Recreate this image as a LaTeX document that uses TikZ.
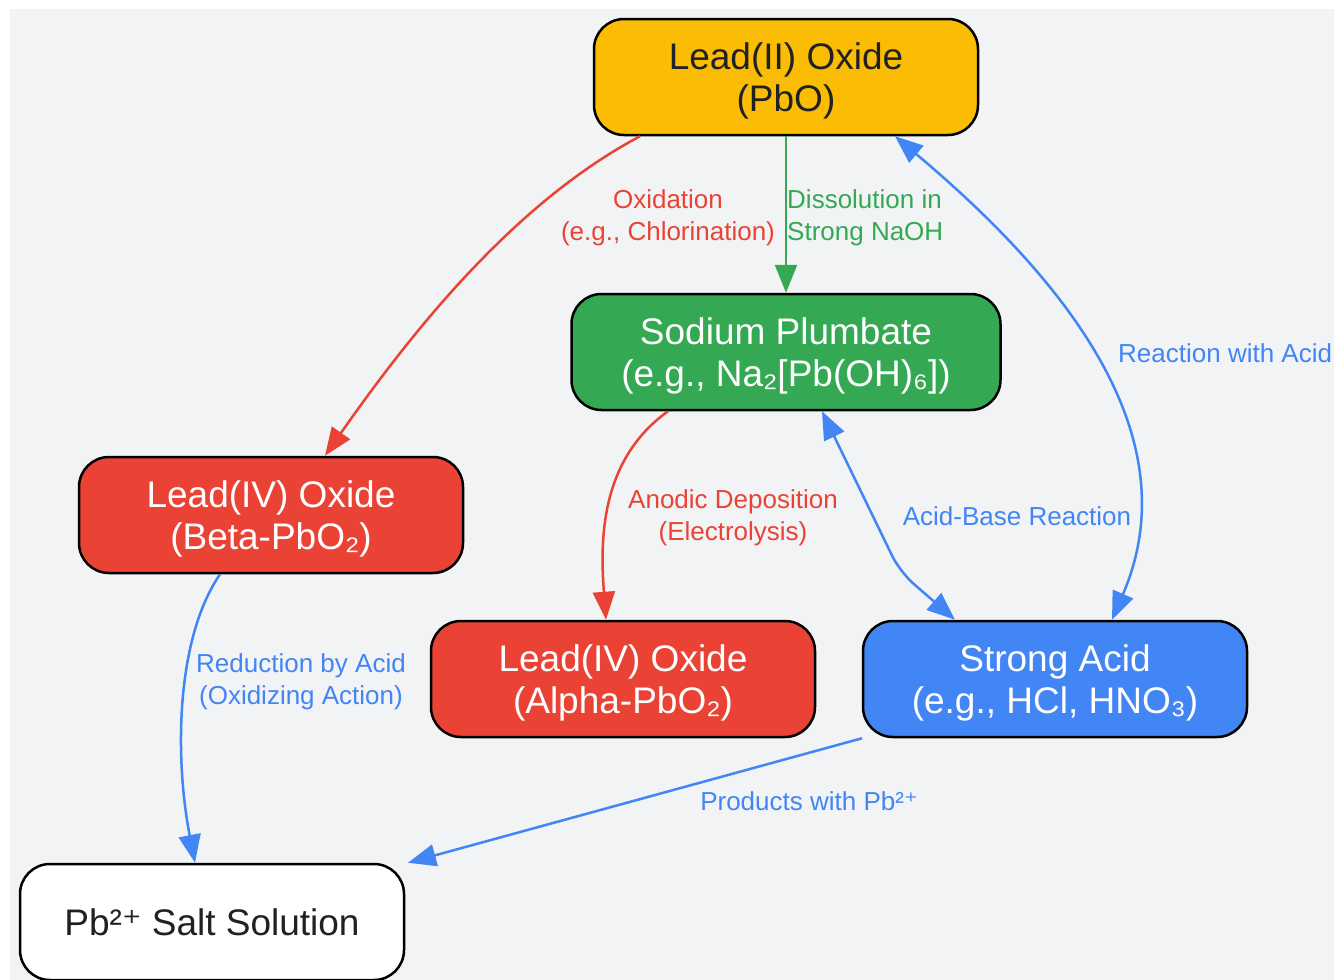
\documentclass[tikz,border=0pt]{standalone}
\usepackage{fontspec}
\setmainfont{Liberation Sans}
\newfontfamily\plusfont{DejaVu Sans}
\usepackage{tikz}
\usetikzlibrary{arrows.meta}

\definecolor{bggray}{HTML}{F2F3F5}
\definecolor{gyellow}{HTML}{FBBC04}
\definecolor{ggreen}{HTML}{34A853}
\definecolor{gred}{HTML}{EA4335}
\definecolor{gblue}{HTML}{4285F4}
\definecolor{darktext}{HTML}{202124}
\newcommand{\suppl}{{\plusfont ⁺}}

\begin{document}
\begin{tikzpicture}[x=1pt, y=-1pt,
		box/.style={draw=black, line width=2.5pt, rounded corners=30pt,
			minimum height=116pt, minimum width=384pt, align=center, text depth=-2pt,
			font=\fontsize{37}{42}\selectfont},
		lbl/.style={align=center, inner sep=0pt, font=\fontsize{26}{32}\selectfont},
		edge/.style={line width=2.5pt, >={Triangle[length=28pt,width=22pt]}}]
		{
			\useasboundingbox (0,0) rectangle (1334,980);
			\fill[bggray] (10,9) rectangle (1334,980);

			% nodes
			\node[box, fill=gyellow, text=darktext] (pbo) at (786,77) {Lead(II) Oxide\\(PbO)};
			\node[box, fill=ggreen, text=white, minimum width=429pt] (plumbate) at (786,352)
				{Sodium Plumbate\\(e.g., Na₂[Pb(OH)₆])};
			\node[box, fill=gred, text=white] (beta) at (271,515) {Lead(IV) Oxide\\(Beta-PbO₂)};
			\node[box, fill=gred, text=white] (alpha) at (623,679) {Lead(IV) Oxide\\(Alpha-PbO₂)};
			\node[box, fill=gblue, text=white] (acid) at (1055,679) {Strong Acid\\(e.g., HCl, HNO₃)};
			\node[box, fill=white, text=darktext, text depth=0pt] (salt) at (212,922)
				{Pb²\suppl{} Salt Solution};

			% connectors
			\draw[edge, gred, ->] ([xshift=-146pt]pbo.south) .. controls (520,200) and (420,320)
				.. ([xshift=54pt]beta.north);
			\draw[edge, ggreen, ->] (pbo.south) -- (plumbate.north);
			\draw[edge, gblue, <->] ([xshift=109pt]pbo.south) .. controls (1090,300) and (1185,450)
				.. ([xshift=57pt]acid.north);
			\draw[edge, gred, ->] ([xshift=-118pt]plumbate.south) .. controls (600,460) and (600,540)
				.. ([xshift=-17pt]alpha.north);
			\draw[edge, gblue, <->, rounded corners=18pt] ([xshift=36pt]plumbate.south) -- (900,572)
				-- ([xshift=-100pt]acid.north);
			\draw[edge, gblue, ->] ([xshift=-51pt]beta.south) .. controls (175,640) and (175,760)
				.. ([xshift=-17pt]salt.north);
			\draw[edge, gblue, ->] ([xshift=-193pt]acid.south) -- ([xshift=196pt]salt.north);

			% labels
			\node[lbl, text=gred] (oxlbl) at (668,218) {Oxidation\\(e.g., Chlorination)};
			\node[lbl, text=ggreen, anchor=west, align=left] (dislbl) at (787,218)
				{Dissolution in\\Strong NaOH};
			\node[lbl, text=gblue, anchor=west] (rxlbl) at (1118,353) {Reaction with Acid};
			\node[lbl, text=gred] (anlbl) at (733,518) {Anodic Deposition\\(Electrolysis)};
			\node[lbl, text=gblue] (ablbl) at (1017,516) {Acid-Base Reaction};
			\node[lbl, text=gblue] (redlbl) at (301,682) {Reduction by Acid\\(Oxidizing Action)};
			\node[lbl, text=gblue] (prlbl) at (809,801) {Products with Pb²\suppl};
		}
	\end{tikzpicture}
\end{document}
